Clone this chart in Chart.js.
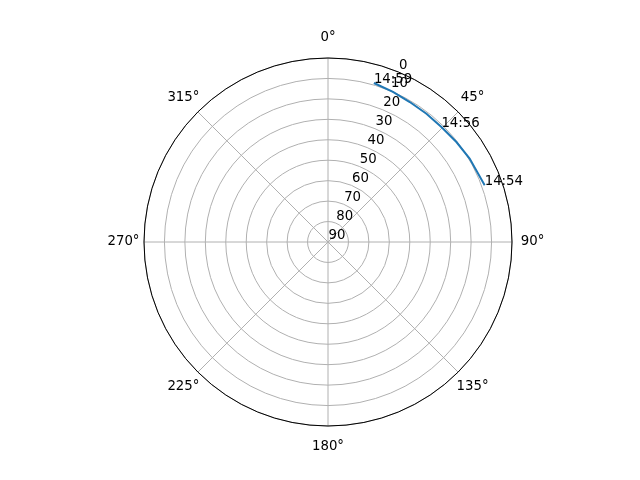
<!DOCTYPE html>
<html>
<head>
<meta charset="utf-8">
<script src="https://cdn.jsdelivr.net/npm/chart.js@4/dist/chart.umd.min.js"></script>
<style>
  html, body { margin: 0; padding: 0; background: #fff; }
</style>
</head>
<body>
<canvas id="polar" width="640" height="480"></canvas>
<script>
// satellite pass, azimuth (deg, clockwise from north) and elevation (deg)
const trackAz = [70.1, 59.5, 52.1, 44.6, 37.5, 30.3, 23.4, 16.1];
const trackEl = [8.5, 9.6, 10.4, 11.0, 10.9, 10.7, 10.0, 9.05];

// time marks along the pass
const markTimes = ['14:54', '14:56', '14:59'];
const markAz = [70.1, 44.6, 16.1];
const markEl = [8.5, 11.0, 9.05];

// axis ticks
const angleTicks = [0, 45, 90, 135, 180, 225, 270, 315];
const elevTicks = [0, 10, 20, 30, 40, 50, 60, 70, 80, 90];

const FONT = "13.3px 'DejaVu Sans'";
const rad = d => d * Math.PI / 180;

// elevation 90 sits at the centre, 0 on the rim
const toXY = function(az, el){
    const r = 90 - el;
    return { x: r * Math.sin(rad(az)), y: r * Math.cos(rad(az)) };
};

const pos = function(chart, az, r){
    const xs = chart.scales.x, ys = chart.scales.y;
    return {
        x: xs.getPixelForValue(r * Math.sin(rad(az))),
        y: ys.getPixelForValue(r * Math.cos(rad(az)))
    };
};

const polarGrid = {
    id: 'polarGrid',
    beforeDatasetsDraw(chart){
        const ctx = chart.ctx;
        const xs = chart.scales.x;
        const c = pos(chart, 0, 0);
        ctx.save();
        ctx.strokeStyle = '#b0b0b0';
        ctx.lineWidth = 1;
        elevTicks.forEach(function(e){
            const r = xs.getPixelForValue(90 - e) - xs.getPixelForValue(0);
            if (r <= 0) return;
            ctx.beginPath();
            ctx.arc(c.x, c.y, r, 0, Math.PI * 2);
            ctx.stroke();
        });
        angleTicks.forEach(function(a){
            const p = pos(chart, a, 90);
            ctx.beginPath();
            ctx.moveTo(c.x, c.y);
            ctx.lineTo(p.x, p.y);
            ctx.stroke();
        });
        ctx.restore();
    },
    afterDatasetsDraw(chart){
        const ctx = chart.ctx;
        const xs = chart.scales.x;
        const c = pos(chart, 0, 0);
        const R = xs.getPixelForValue(90) - xs.getPixelForValue(0);
        ctx.save();
        // outer spine
        ctx.strokeStyle = '#000';
        ctx.lineWidth = 1;
        ctx.beginPath();
        ctx.arc(c.x, c.y, R, 0, Math.PI * 2);
        ctx.stroke();

        ctx.fillStyle = '#000';
        ctx.font = FONT;
        // angle labels
        ctx.textAlign = 'center';
        ctx.textBaseline = 'middle';
        angleTicks.forEach(function(a){
            const x = c.x + (R + 20.5) * Math.sin(rad(a));
            const y = c.y - (R + 20.5) * Math.cos(rad(a));
            ctx.fillText(a + '°', x, y);
        });
        // elevation labels along 22.5 deg
        ctx.textAlign = 'left';
        ctx.textBaseline = 'alphabetic';
        elevTicks.forEach(function(e){
            const p = pos(chart, 22.5, 90 - e);
            ctx.fillText(String(e), p.x + 0.5, p.y - 3.5);
        });
        // time marks
        markTimes.forEach(function(t, i){
            const q = toXY(markAz[i], markEl[i]);
            const x = xs.getPixelForValue(q.x);
            const y = chart.scales.y.getPixelForValue(q.y);
            ctx.fillText(t, x, y);
        });
        ctx.restore();
    }
};

const ctx = document.getElementById('polar').getContext('2d');
const chart = new Chart(ctx, {
    type: 'scatter',
    data: {
        datasets: [{
            data: trackAz.map((a, i) => toXY(a, trackEl[i])),
            showLine: true,
            borderColor: '#1f77b4',
            borderWidth: 2,
            pointRadius: 0,
            fill: false
        }]
    },
    options: {
        responsive: false,
        animation: false,
        devicePixelRatio: 1,
        layout: { padding: { left: 144, right: 128, top: 58, bottom: 54 } },
        plugins: { legend: { display: false }, tooltip: { enabled: false } },
        scales: {
            x: { type: 'linear', min: -90, max: 90, display: false },
            y: { type: 'linear', min: -90, max: 90, display: false }
        }
    },
    plugins: [polarGrid]
});
</script>
</body>
</html>
